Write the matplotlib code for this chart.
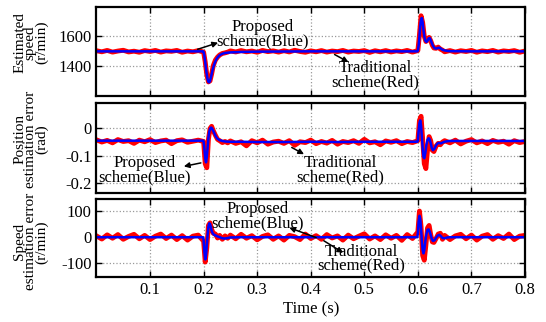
import matplotlib
matplotlib.use("Agg")
import matplotlib.pyplot as plt

plt.rcParams["font.family"] = ["Liberation Serif", "DejaVu Serif"]
plt.rcParams["axes.unicode_minus"] = False

# blue trace (proposed scheme) sample times
t_blue = [0.00, 0.05, 0.10, 0.15, 0.199, 0.200, 0.2015, 0.203, 0.2045, 0.206,
          0.2075, 0.209, 0.2105, 0.212, 0.2135, 0.215, 0.217, 0.219, 0.221, 0.223,
          0.226, 0.23, 0.235, 0.24, 0.25, 0.27, 0.30, 0.35, 0.40, 0.45,
          0.50, 0.55, 0.599, 0.600, 0.6015, 0.603, 0.6045, 0.606, 0.6075, 0.609,
          0.6105, 0.612, 0.614, 0.616, 0.618, 0.62, 0.622, 0.624, 0.626, 0.628,
          0.631, 0.634, 0.637, 0.64, 0.643, 0.646, 0.65, 0.655, 0.66, 0.70,
          0.75, 0.80]

speed_blue = [1500, 1500, 1500, 1500, 1500, 1495, 1470, 1430, 1385, 1345,
              1315, 1298, 1295, 1305, 1325, 1350, 1380, 1405, 1425, 1442,
              1460, 1475, 1484, 1489, 1493, 1496, 1498, 1499, 1500, 1500,
              1500, 1500, 1500, 1505, 1540, 1600, 1670, 1715, 1720, 1690,
              1640, 1600, 1570, 1562, 1570, 1585, 1588, 1575, 1555, 1538,
              1522, 1518, 1522, 1524, 1518, 1510, 1506, 1503, 1501, 1500,
              1500, 1500]

pos_blue = [-0.045, -0.045, -0.045, -0.045, -0.045, -0.048, -0.075, -0.110, -0.125, -0.105,
            -0.070, -0.035, -0.012, -0.002, 0.003, 0.002, -0.005, -0.013, -0.022, -0.030,
            -0.038, -0.043, -0.046, -0.048, -0.049, -0.049, -0.050, -0.050, -0.049, -0.050,
            -0.049, -0.049, -0.049, -0.045, -0.010, 0.020, 0.030, 0.010, -0.030, -0.075,
            -0.105, -0.110, -0.090, -0.060, -0.042, -0.036, -0.040, -0.055, -0.072, -0.080,
            -0.075, -0.062, -0.055, -0.053, -0.055, -0.052, -0.049, -0.047, -0.046, -0.046,
            -0.046, -0.046]

err_blue = [0, 0, 0, 0, 0, -10, -55, -85, -70, -30,
            10, 40, 53, 50, 38, 25, 15, 10, 8, 6,
            3, 0, -4, -5, -1, 0, 0, 0, 0, 0,
            0, 0, 0, 15, 60, 82, 70, 30, -15, -50,
            -62, -50, -15, 12, 28, 30, 22, 8, -6, -14,
            -12, -2, 6, 9, 4, -3, -4, -1, 0, 0,
            0, 0]

# red trace (traditional scheme) sample times
t_red = [0.00, 0.01, 0.02, 0.03, 0.04, 0.05, 0.06, 0.07, 0.08, 0.09,
         0.10, 0.11, 0.12, 0.13, 0.14, 0.15, 0.16, 0.17, 0.18, 0.19,
         0.200, 0.203, 0.206, 0.209, 0.212, 0.215, 0.218, 0.222, 0.226, 0.230,
         0.235, 0.240, 0.245,
         0.25, 0.26, 0.27, 0.28, 0.29, 0.30, 0.31, 0.32, 0.33, 0.34,
         0.35, 0.36, 0.37, 0.38, 0.39, 0.40, 0.41, 0.42, 0.43, 0.44,
         0.45, 0.46, 0.47, 0.48, 0.49, 0.50, 0.51, 0.52, 0.53, 0.54,
         0.55, 0.56, 0.57, 0.58, 0.59,
         0.600, 0.603, 0.606, 0.609, 0.612, 0.615, 0.618, 0.621, 0.624, 0.627,
         0.630, 0.634, 0.638, 0.642, 0.646,
         0.65, 0.66, 0.67, 0.68, 0.69, 0.70, 0.71, 0.72, 0.73, 0.74,
         0.75, 0.76, 0.77, 0.78, 0.79, 0.80]

speed_red = [1504, 1497, 1506, 1495, 1502, 1507, 1496, 1501, 1494, 1505,
             1499, 1506, 1495, 1503, 1500, 1506, 1494, 1502, 1497, 1505,
             1495, 1430, 1345, 1298, 1305, 1350, 1405, 1442, 1462, 1476,
             1486, 1490, 1495,
             1503, 1496, 1505, 1497, 1502, 1494, 1506, 1498, 1503, 1495,
             1504, 1496, 1507, 1499, 1494, 1503, 1497, 1505, 1495, 1502,
             1498, 1506, 1495, 1502, 1499, 1505, 1493, 1504, 1497, 1505,
             1496, 1503, 1498, 1506, 1495,
             1505, 1610, 1735, 1690, 1600, 1565, 1575, 1592, 1570, 1540,
             1522, 1520, 1528, 1515, 1508,
             1497, 1505, 1495, 1504, 1499, 1506, 1494, 1503, 1498, 1506,
             1495, 1503, 1499, 1505, 1494, 1502]

pos_red = [-0.042, -0.050, -0.044, -0.053, -0.041, -0.048, -0.045, -0.055, -0.043, -0.049,
           -0.041, -0.052, -0.046, -0.043, -0.056, -0.045, -0.042, -0.051, -0.047, -0.043,
           -0.048, -0.130, -0.145, -0.040, 0.000, 0.008, -0.008, -0.025, -0.040, -0.045,
           -0.052, -0.048, -0.053,
           -0.046, -0.055, -0.049, -0.064, -0.045, -0.053, -0.043, -0.058, -0.050, -0.047,
           -0.055, -0.045, -0.062, -0.049, -0.052, -0.043, -0.056, -0.048, -0.054, -0.044,
           -0.058, -0.048, -0.052, -0.045, -0.055, -0.040, -0.053, -0.049, -0.060, -0.046,
           -0.051, -0.045, -0.056, -0.048, -0.052,
           -0.045, 0.030, 0.045, -0.040, -0.130, -0.148, -0.080, -0.030, -0.045, -0.080,
           -0.085, -0.065, -0.055, -0.060, -0.050,
           -0.045, -0.053, -0.043, -0.057, -0.047, -0.041, -0.053, -0.046, -0.056, -0.044,
           -0.051, -0.047, -0.058, -0.045, -0.052, -0.048]

err_red = [5, -7, 9, -4, 10, -8, 3, 11, -6, 7,
           -9, 4, 12, -5, 8, -9, 6, -11, 4, 8,
           -15, -95, -40, 45, 55, 30, 15, 12, -3, 7,
           -8, 5, -4,
           8, -6, 11, -4, 6, -10, 3, 9, -8, 5,
           -11, 7, 2, -9, 12, -5, 6, -8, 10, -3,
           5, -11, 8, -6, 4, 13, -7, 5, -9, 9,
           -4, 7, -12, 10, -5,
           20, 100, 40, -70, -88, -30, 35, 45, 10, -18,
           -20, -5, 12, 15, -8,
           7, -9, 5, 11, -6, 8, -11, 4, 10, -8,
           6, -5, 12, -9, 4, 7]

x_ticks = [0.1, 0.2, 0.3, 0.4, 0.5, 0.6, 0.7, 0.8]

fig = plt.figure(figsize=(5.46, 3.22), dpi=100)
left, width = 0.1767, 0.7848
ax1 = fig.add_axes([left, 0.7019, width, 0.2773])
ax2 = fig.add_axes([left, 0.4016, width, 0.2776])
ax3 = fig.add_axes([left, 0.1407, width, 0.2404])

panels = [
    (ax1, speed_red, speed_blue, (1205, 1795), [1400, 1600], "Estimated\nspeed\n(r/min)", 0.6),
    (ax2, pos_red, pos_blue, (-0.237, 0.093), [-0.2, -0.1, 0], "Position\nestimation error\n(rad)", 0.6),
    (ax3, err_red, err_blue, (-151, 145), [-100, 0, 100], "Speed\nestimation error\n(r/min)", 0.45),
]

for ax, red, blue, ylim, yt, ylab, ly in panels:
    ax.plot(t_red, red, color="red", lw=3.5)
    ax.plot(t_blue, blue, color="blue", lw=1.8)
    ax.set_xlim(0, 0.8)
    ax.set_ylim(*ylim)
    ax.set_xticks(x_ticks)
    ax.set_yticks(yt)
    ax.set_yticklabels([f"{v:g}" for v in yt])
    ax.grid(True, linestyle=":", color="0.6", linewidth=0.9)
    ax.set_axisbelow(True)
    ax.tick_params(direction="in", top=True, right=True, length=4, width=1, labelsize=12)
    for s in ax.spines.values():
        s.set_linewidth(1.6)
    ax.set_ylabel(ylab, fontsize=11, linespacing=0.78)
    ax.yaxis.set_label_coords(-0.113, ly)
    if ax is not ax3:
        ax.tick_params(labelbottom=False)

ax3.set_xticklabels([f"{v:g}" for v in x_ticks])
ax3.set_xlabel("Time (s)", fontsize=12, labelpad=3)

arrow = dict(arrowstyle="-|>", color="black", lw=1.1, mutation_scale=8)
txt = dict(fontsize=12, ha="center", va="center", linespacing=0.85)

ax1.text(0.31, 1615, "Proposed\nscheme(Blue)", **txt)
ax1.annotate("", xy=(0.232, 1563), xytext=(0.184, 1508), arrowprops=arrow)
ax1.text(0.52, 1345, "Traditional\nscheme(Red)", **txt)
ax1.annotate("", xy=(0.475, 1420), xytext=(0.44, 1488), arrowprops=arrow)

ax2.text(0.09, -0.154, "Proposed\nscheme(Blue)", **txt)
ax2.annotate("", xy=(0.158, -0.142), xytext=(0.2, -0.125), arrowprops=arrow)
ax2.text(0.455, -0.154, "Traditional\nscheme(Red)", **txt)
ax2.annotate("", xy=(0.392, -0.1), xytext=(0.36, -0.065), arrowprops=arrow)

ax3.text(0.30, 80, "Proposed\nscheme(Blue)", **txt)
ax3.annotate("", xy=(0.355, 40), xytext=(0.415, -5), arrowprops=arrow)
ax3.text(0.495, -82, "Traditional\nscheme(Red)", **txt)
ax3.annotate("", xy=(0.465, -65), xytext=(0.42, -8), arrowprops=arrow)

fig.savefig("out.png", dpi=100)
